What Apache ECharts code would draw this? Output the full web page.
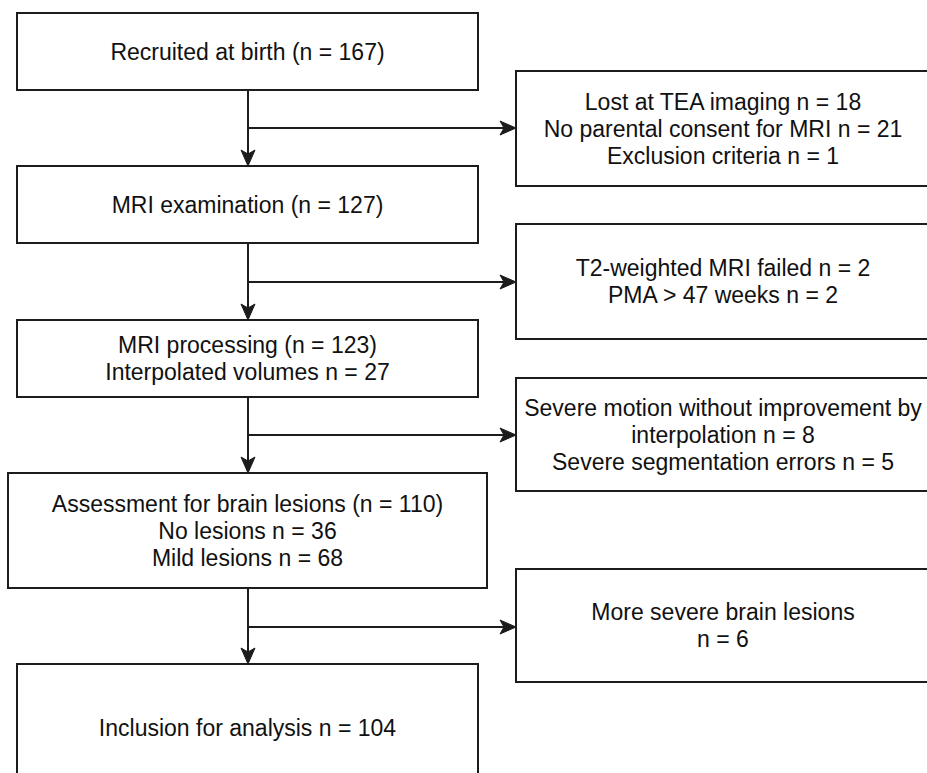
<!DOCTYPE html>
<html>
<head>
<meta charset="utf-8">
<script src="https://cdn.jsdelivr.net/npm/echarts@6/dist/echarts.min.js"></script>
<style>
html,body{margin:0;padding:0;background:#ffffff;}
#chart{width:927px;height:773px;}
</style>
</head>
<body>
<div id="chart"></div>
<script>
// ---- content (data) ----
const mainSteps = [
  "Recruited at birth (n = 167)",
  "MRI examination (n = 127)",
  "MRI processing (n = 123)\nInterpolated volumes n = 27",
  "Assessment for brain lesions (n = 110)\nNo lesions n = 36\nMild lesions n = 68",
  "Inclusion for analysis n = 104"
];
const exclusionSteps = [
  "Lost at TEA imaging n = 18\nNo parental consent for MRI n = 21\nExclusion criteria n = 1",
  "T2-weighted MRI failed n = 2\nPMA > 47 weeks n = 2",
  "Severe motion without improvement by\ninterpolation n = 8\nSevere segmentation errors n = 5",
  "More severe brain lesions\nn = 6"
];

// ---- layout (diagram coordinate space, 927 x 773) ----
const mainBoxes = [[17,13,478,90],[17,166,478,243],[17,320,478,397],[8,473,487,588],[17,664,478,792]];
const sideBoxes = [[516,71,940,186],[516,224,940,339],[516,378,940,491],[516,569,940,682]];
const trunkX = 248;
const branchY = [128,282,435,627];

const STROKE = '#1c1c1c';
const FONT = '23px "Liberation Sans", Arial, sans-serif';

function boxRender(texts) {
  return function (params, api) {
    const p0 = api.coord([api.value(0), api.value(1)]);
    const p1 = api.coord([api.value(2), api.value(3)]);
    const idx = api.value(4);
    const visRight = Math.min(p1[0], api.getWidth());
    return {
      type: 'group',
      children: [
        {
          type: 'rect',
          shape: {x: p0[0], y: p0[1], width: p1[0] - p0[0], height: p1[1] - p0[1]},
          style: {fill: '#ffffff', stroke: STROKE, lineWidth: 2}
        },
        {
          type: 'text',
          style: {
            text: texts[idx],
            x: (p0[0] + (texts === exclusionSteps ? p1[0] - 10 : p1[0])) / 2,
            y: (p0[1] + p1[1]) / 2,
            align: 'center',
            verticalAlign: 'middle',
            font: FONT,
            lineHeight: 27,
            fill: '#111111'
          }
        }
      ]
    };
  };
}

function connectorRender(params, api) {
  const i = api.value(0);
  const from = mainBoxes[i], to = mainBoxes[i + 1], side = sideBoxes[i];
  const a = api.coord([trunkX, from[3]]);
  const b = api.coord([trunkX, to[1]]);
  const c = api.coord([trunkX, branchY[i]]);
  const d = api.coord([side[0], branchY[i]]);
  const L = 16, W = 7, N = 12;
  return {
    type: 'group',
    children: [
      {type: 'line', shape: {x1: a[0], y1: a[1], x2: b[0], y2: b[1] - N}, style: {stroke: STROKE, lineWidth: 2}},
      {type: 'line', shape: {x1: c[0], y1: c[1], x2: d[0] - N, y2: d[1]}, style: {stroke: STROKE, lineWidth: 2}},
      {type: 'polygon', shape: {points: [[b[0], b[1]], [b[0] - W, b[1] - L], [b[0], b[1] - N], [b[0] + W, b[1] - L]]},
        style: {fill: STROKE, stroke: STROKE, lineWidth: 1}},
      {type: 'polygon', shape: {points: [[d[0], d[1]], [d[0] - L, d[1] - W], [d[0] - N, d[1]], [d[0] - L, d[1] + W]]},
        style: {fill: STROKE, stroke: STROKE, lineWidth: 1}}
    ]
  };
}

const chart = echarts.init(document.getElementById('chart'), null, {renderer: 'svg'});
chart.setOption({
  animation: false,
  backgroundColor: '#ffffff',
  grid: {left: 0, right: 0, top: 0, bottom: 0},
  xAxis: {type: 'value', min: 0, max: 927, show: false},
  yAxis: {type: 'value', min: 0, max: 773, inverse: true, show: false},
  series: [
    {
      type: 'custom', clip: false,
      renderItem: connectorRender,
      data: branchY.map((y, i) => [i])
    },
    {
      type: 'custom', clip: false,
      renderItem: boxRender(mainSteps),
      data: mainBoxes.map((b, i) => [b[0], b[1], b[2], b[3], i])
    },
    {
      type: 'custom', clip: false,
      renderItem: boxRender(exclusionSteps),
      data: sideBoxes.map((b, i) => [b[0], b[1], b[2], b[3], i])
    }
  ]
});
</script>
</body>
</html>
